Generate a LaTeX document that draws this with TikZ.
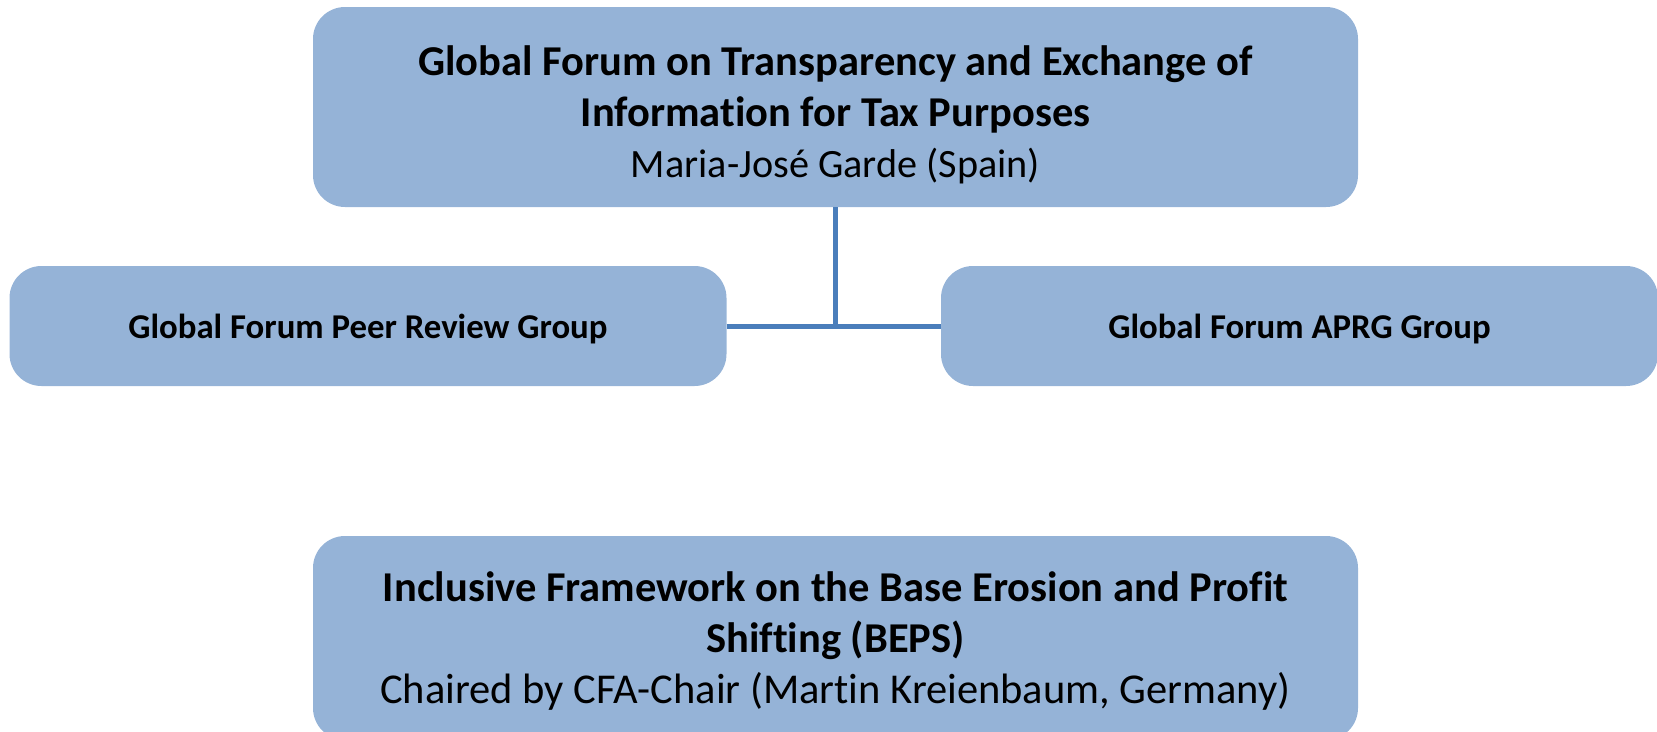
\documentclass[tikz,border=0pt]{standalone}
\usepackage{fontspec}
\setmainfont{Carlito}[Ligatures=NoCommon]
\usepackage{tikz}
\usetikzlibrary{positioning}
\definecolor{boxblue}{HTML}{95B3D7}
\definecolor{linkblue}{HTML}{4A7EBB}
\newcommand{\lift}[1]{\rule{0pt}{#1em}}

\begin{document}
\begin{tikzpicture}[x=1pt,y=-1pt,node distance=100pt,on grid,
        box/.style={rectangle,rounded corners=32pt,fill=boxblue,inner sep=0pt,align=center},
        bigbox/.style={box,minimum width=1045pt,minimum height=200pt,font=\fontsize{42.5}{51}\selectfont},
        sidebox/.style={box,minimum width=717pt,minimum height=120pt,font=\fontsize{34.8}{40}\selectfont\bfseries},
        link/.style={draw=linkblue,line width=5pt}]
        \useasboundingbox (0,0) rectangle (1657,731);
        \node[bigbox] (gf) at (835.5,107)
            {\lift{1.07}\textbf{Global Forum on Transparency and Exchange of}\\
             \textbf{Information for Tax Purposes}\\
             \fontsize{40.2}{51}\selectfont Maria-José Garde (Spain)};
        \node[sidebox] (prg)  [below left=219pt and 467.5pt of gf]  {\lift{0.89}Global Forum Peer Review Group};
        \node[sidebox] (aprg) [below right=219pt and 464pt of gf] {\lift{0.89}Global Forum APRG Group};
        \node[bigbox,minimum height=204pt] (if) [below=531pt of gf]
            {\lift{0.86}\textbf{Inclusive Framework on the Base Erosion and Profit}\\
             \textbf{Shifting (BEPS)}\\
             Chaired by CFA-Chair (Martin Kreienbaum, Germany)};
        \coordinate (join) at (gf.south |- prg.east);
        \path[link]
        (gf.south) -- (join)
        (prg.east) -- (aprg.west);
\end{tikzpicture}
\end{document}
